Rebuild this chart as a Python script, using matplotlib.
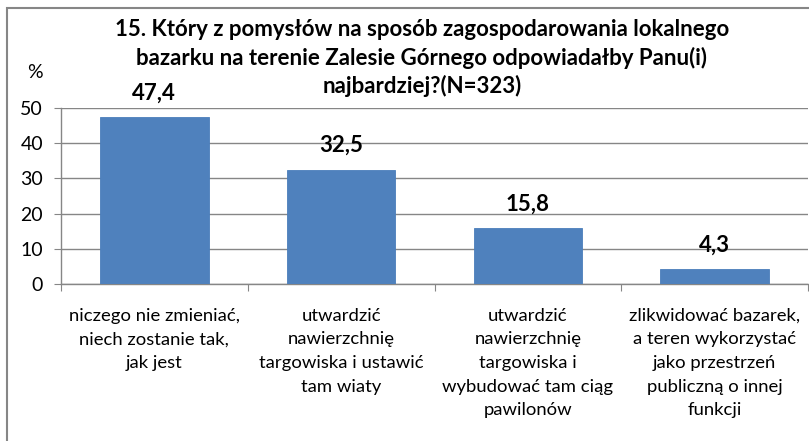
import matplotlib
matplotlib.use("Agg")
import matplotlib.pyplot as plt
from matplotlib.patches import Rectangle
import numpy as np

plt.rcParams["font.family"] = ["Lato", "DejaVu Sans"]

# data
categories = [
    "niczego nie zmieniać,\nniech zostanie tak,\njak jest",
    "utwardzić\nnawierzchnię\ntargowiska i ustawić\ntam wiaty",
    "utwardzić\nnawierzchnię\ntargowiska i\nwybudować tam ciąg\npawilonów",
    "zlikwidować bazarek,\na teren wykorzystać\njako przestrzeń\npubliczną o innej\nfunkcji",
]
values = [47.4, 32.5, 15.8, 4.3]
value_labels = ["47,4", "32,5", "15,8", "4,3"]
yticks = [0, 10, 20, 30, 40, 50]

title_lines = [
    "15. Który z pomysłów na sposób zagospodarowania lokalnego",
    "bazarku na terenie Zalesie Górnego odpowiadałby Panu(i)",
    "najbardziej?(N=323)",
]

W, H = 809, 441
fig = plt.figure(figsize=(W / 100, H / 100), dpi=100)

# outer chart frame (right/bottom edges cut off in the reference)
fig.patches.append(Rectangle((7 / W, -0.05), 1.1, 1 - 7.5 / H + 0.05,
                             transform=fig.transFigure, fill=False,
                             edgecolor="#868686", linewidth=1.5))

ax = fig.add_axes([61 / W, 1 - 284 / H, (808 - 61) / W, (284 - 108) / H])
x = np.arange(len(values))
ax.bar(x, values, width=0.58, color="#4F81BD", edgecolor="#4A7EBB", linewidth=0.6, zorder=3)

ax.set_xlim(-0.5, len(values) - 0.5)
ax.set_ylim(0, 50)
ax.set_yticks(yticks)
ax.tick_params(axis="y", labelsize=14, length=5, color="#868686", pad=8)
ax.yaxis.grid(True, color="#868686", linewidth=1.0, zorder=0)

ax.set_xticks(np.arange(len(values) + 1) - 0.5)
ax.set_xticklabels([])
ax.tick_params(axis="x", length=5, color="#868686")
for xi, lab in zip(x, categories):
    ax.text(xi, -6.8, lab, ha="center", va="top", fontsize=13.3,
            linespacing=1.58)

for spine in ["top", "right"]:
    ax.spines[spine].set_visible(False)
for spine in ["left", "bottom"]:
    ax.spines[spine].set_color("#868686")
    ax.spines[spine].set_linewidth(1.0)

for xi, v, lab in zip(x, values, value_labels):
    ax.text(xi, v + 6.8, lab, ha="center", va="center", fontsize=16,
            fontweight="bold")

# title drawn line by line, centred
for i, line in enumerate(title_lines):
    fig.text(422 / W, 1 - (30 + 28 * i) / H, line, ha="center", va="center",
             fontsize=16, fontweight="bold")
fig.text(35 / W, 1 - 73 / H, "%", ha="center", va="center", fontsize=14)

fig.savefig("out.png", dpi=100)
